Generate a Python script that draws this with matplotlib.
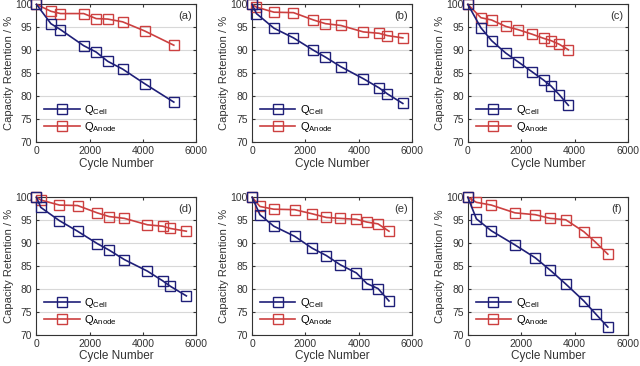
import numpy as np
import matplotlib
matplotlib.use('Agg')
import matplotlib.pyplot as plt

plt.rcParams.update({
    'font.family': ['Liberation Sans', 'DejaVu Sans'],
    'mathtext.fontset': 'custom',
    'mathtext.rm': 'Liberation Sans',
    'xtick.direction': 'in',
    'ytick.direction': 'in',
    'xtick.top': True,
    'ytick.right': True,
    'xtick.major.size': 2.5,
    'ytick.major.size': 2.5,
})

# ============ 数据 ============
labels = ['(a)', '(b)', '(c)', '(d)', '(e)', '(f)']
ylabels = ['Capacity Retention / %'] * 5 + ['Capacity Relantion / %']

cycles_a = [0, 540, 900, 1770, 2240, 2670, 3230, 4060, 5150]
cell_a = [100, 95.8, 94.5, 91.0, 89.6, 87.6, 85.9, 82.7, 78.7]
anode_a = [100, 98.5, 98.0, 98.0, 96.9, 96.8, 96.2, 94.2, 91.1]

cycles_b = [0, 160, 820, 1550, 2300, 2750, 3330, 4170, 4760, 5070, 5650]
cell_b = [100, 98.0, 94.8, 92.7, 90.0, 88.5, 86.4, 83.8, 81.8, 80.5, 78.4]
anode_b = [100, 99.4, 98.3, 98.2, 96.6, 95.8, 95.4, 94.0, 93.7, 93.2, 92.7]

cycles_c = [0, 490, 890, 1420, 1880, 2410, 2840, 3120, 3430, 3770]
cell_c = [100, 94.9, 92.1, 89.4, 87.5, 85.3, 83.5, 82.2, 80.3, 78.0]
anode_c = [100, 97.1, 96.6, 95.2, 94.5, 93.5, 92.6, 92.1, 91.3, 90.1]

cycles_d = [0, 160, 860, 1540, 2280, 2720, 3300, 4160, 4730, 5020, 5620]
cell_d = [100, 97.8, 94.9, 92.6, 89.9, 88.5, 86.4, 83.9, 81.8, 80.6, 78.5]
anode_d = [100, 99.4, 98.3, 98.2, 96.6, 95.8, 95.4, 94.0, 93.7, 93.2, 92.6]

cycles_e = [0, 290, 810, 1590, 2250, 2780, 3300, 3910, 4300, 4720, 5130]
cell_e = [100, 96.2, 93.7, 91.5, 88.9, 87.3, 85.3, 83.5, 81.2, 80.1, 77.4]
anode_e = [100, 98.0, 97.4, 97.3, 96.4, 95.6, 95.4, 95.2, 94.6, 94.2, 92.6]

cycles_f = [0, 320, 880, 1770, 2530, 3090, 3670, 4350, 4790, 5250]
cell_f = [100, 95.3, 92.7, 89.6, 86.8, 84.1, 81.1, 77.4, 74.6, 71.7]
anode_f = [100, 98.9, 98.3, 96.6, 96.2, 95.4, 95.1, 92.5, 90.2, 87.6]

panels = [
    (cycles_a, cell_a, anode_a),
    (cycles_b, cell_b, anode_b),
    (cycles_c, cell_c, anode_c),
    (cycles_d, cell_d, anode_d),
    (cycles_e, cell_e, anode_e),
    (cycles_f, cell_f, anode_f),
]

cell_color = '#1f1f78'
anode_color = '#cc4040'

fig = plt.figure(figsize=(6.4, 3.66), dpi=100)
lefts = [0.057, 0.394, 0.731]
bottoms = [0.612, 0.085]
width, height = 0.250, 0.376

for i, (cyc, cell, anode) in enumerate(panels):
    row, col = divmod(i, 3)
    ax = fig.add_axes([lefts[col], bottoms[row], width, height])
    ax.plot(cyc, anode, '-s', color=anode_color, markerfacecolor='none',
            markeredgewidth=1.0, markersize=6.5, linewidth=1.2,
            label=r'Q$_{\rm Anode}$', zorder=3, clip_on=False)
    ax.plot(cyc, cell, '-s', color=cell_color, markerfacecolor='none',
            markeredgewidth=1.0, markersize=6.5, linewidth=1.2,
            label=r'Q$_{\rm Cell}$', zorder=4, clip_on=False)
    ax.set_xlim(0, 6000)
    ax.set_ylim(70, 100)
    ax.set_xticks([0, 2000, 4000, 6000])
    ax.set_yticks([70, 75, 80, 85, 90, 95, 100])
    ax.yaxis.grid(True, color='#d8d8d8', linewidth=0.8)
    ax.set_axisbelow(True)
    ax.tick_params(labelsize=7.5, colors='#333333', pad=3)
    for sp in ax.spines.values():
        sp.set_color('#333333')
        sp.set_linewidth(0.8)
    ax.set_xlabel('Cycle Number', fontsize=8.5, color='#333333', labelpad=1)
    ax.set_ylabel(ylabels[i], fontsize=8, color='#333333', labelpad=1)
    ax.text(0.93, 0.915, labels[i], transform=ax.transAxes, fontsize=8,
            ha='center', va='center', color='#333333')
    handles, labs = ax.get_legend_handles_labels()
    ax.legend(handles[::-1], labs[::-1], loc='lower left', frameon=False,
              fontsize=8, handlelength=3.2, borderaxespad=0.3,
              labelspacing=0.3, handletextpad=0.4)

fig.savefig('out.png', dpi=100, facecolor='white')
